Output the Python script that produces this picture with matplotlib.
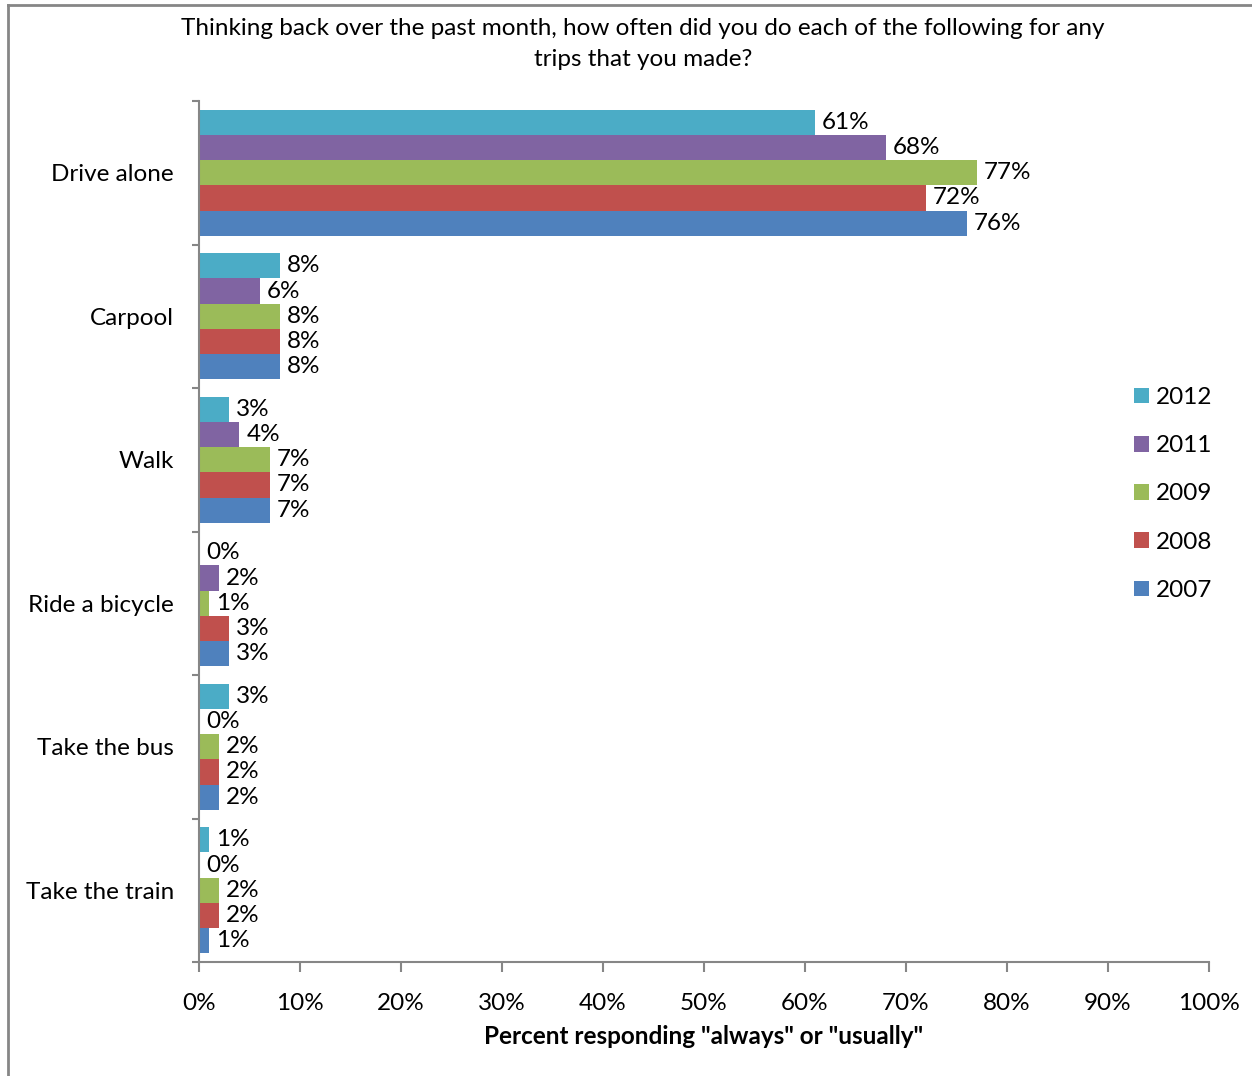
import numpy as np
import matplotlib.pyplot as plt
from matplotlib.lines import Line2D
from matplotlib.patches import Patch

# =========================
# Data
# =========================
modes = ["Drive alone", "Carpool", "Walk", "Ride a bicycle", "Take the bus", "Take the train"]
years = ["2012", "2011", "2009", "2008", "2007"]
colors = ["#4BACC6", "#8064A2", "#9BBB59", "#C0504D", "#4F81BD"]

pct_2012 = [61, 8, 3, 0, 3, 1]
pct_2011 = [68, 6, 4, 2, 0, 0]
pct_2009 = [77, 8, 7, 1, 2, 2]
pct_2008 = [72, 8, 7, 3, 2, 2]
pct_2007 = [76, 8, 7, 3, 2, 1]
series = [pct_2012, pct_2011, pct_2009, pct_2008, pct_2007]

x_ticks = list(range(0, 101, 10))

title = ("Thinking back over the past month, how often did you do each of the following for any\n"
         "trips that you made?")
xlabel = 'Percent responding "always" or "usually"'

# =========================
# Plot
# =========================
plt.rcParams['font.family'] = ['Lato', 'DejaVu Sans']
FS = 17.5
W, H = 1252, 1076
fig = plt.figure(figsize=(W / 100, H / 100), dpi=100)
ax = fig.add_axes([199 / W, 1 - 962 / H, (1209 - 199) / W, (962 - 101) / H])

n = len(years)
bar_h = 0.1756
y = np.arange(len(modes))
for i, (vals, col) in enumerate(zip(series, colors)):
    pos = y - bar_h * (n - 1) / 2 + i * bar_h
    ax.barh(pos, vals, height=bar_h, color=col, label=years[i], zorder=2)
    for p, v in zip(pos, vals):
        ax.annotate(f"{v}%", (v, p), xytext=(5, 0), textcoords="offset points",
                    va="center", ha="left", fontsize=FS)

ax.set_xlim(0, 100)
ax.set_ylim(len(modes) - 0.5, -0.5)

gray = "#868686"
for s in ["top", "right"]:
    ax.spines[s].set_visible(False)
for s in ["left", "bottom"]:
    ax.spines[s].set_color(gray)
    ax.spines[s].set_linewidth(1.5)

ax.set_xticks(x_ticks)
ax.set_xticklabels([f"{t}%" for t in x_ticks], fontsize=FS)
ax.tick_params(axis="x", length=7, width=1.5, color=gray, pad=15)

ax.set_yticks(np.arange(len(modes) + 1) - 0.5)
ax.set_yticklabels([])
ax.tick_params(axis="y", which="major", length=5, width=1.5, color=gray)
ax.set_yticks(y, minor=True)
ax.set_yticklabels(modes, minor=True, fontsize=FS)
ax.tick_params(axis="y", which="minor", length=0, pad=18)

ax.set_xlabel(xlabel, fontsize=FS, fontweight="bold", labelpad=8)

fig.text(643 / W, 1 - 44 / H, title, ha="center", va="center",
         fontsize=FS, linespacing=1.6)

handles = [Patch(facecolor=c, edgecolor="none") for c in colors]
fig.legend(handles, years, loc="center left", bbox_to_anchor=(1112 / W, 1 - 494 / H),
           frameon=False, fontsize=FS, handlelength=0.62, handleheight=0.62,
           handletextpad=0.3, labelspacing=1.12)

# outer chart frame
fig.add_artist(Line2D([8 / W, 8 / W], [0, 1 - 5 / H], color=gray, lw=2))
fig.add_artist(Line2D([8 / W, 1], [1 - 5 / H, 1 - 5 / H], color=gray, lw=2))

fig.savefig("out.png", dpi=100)
